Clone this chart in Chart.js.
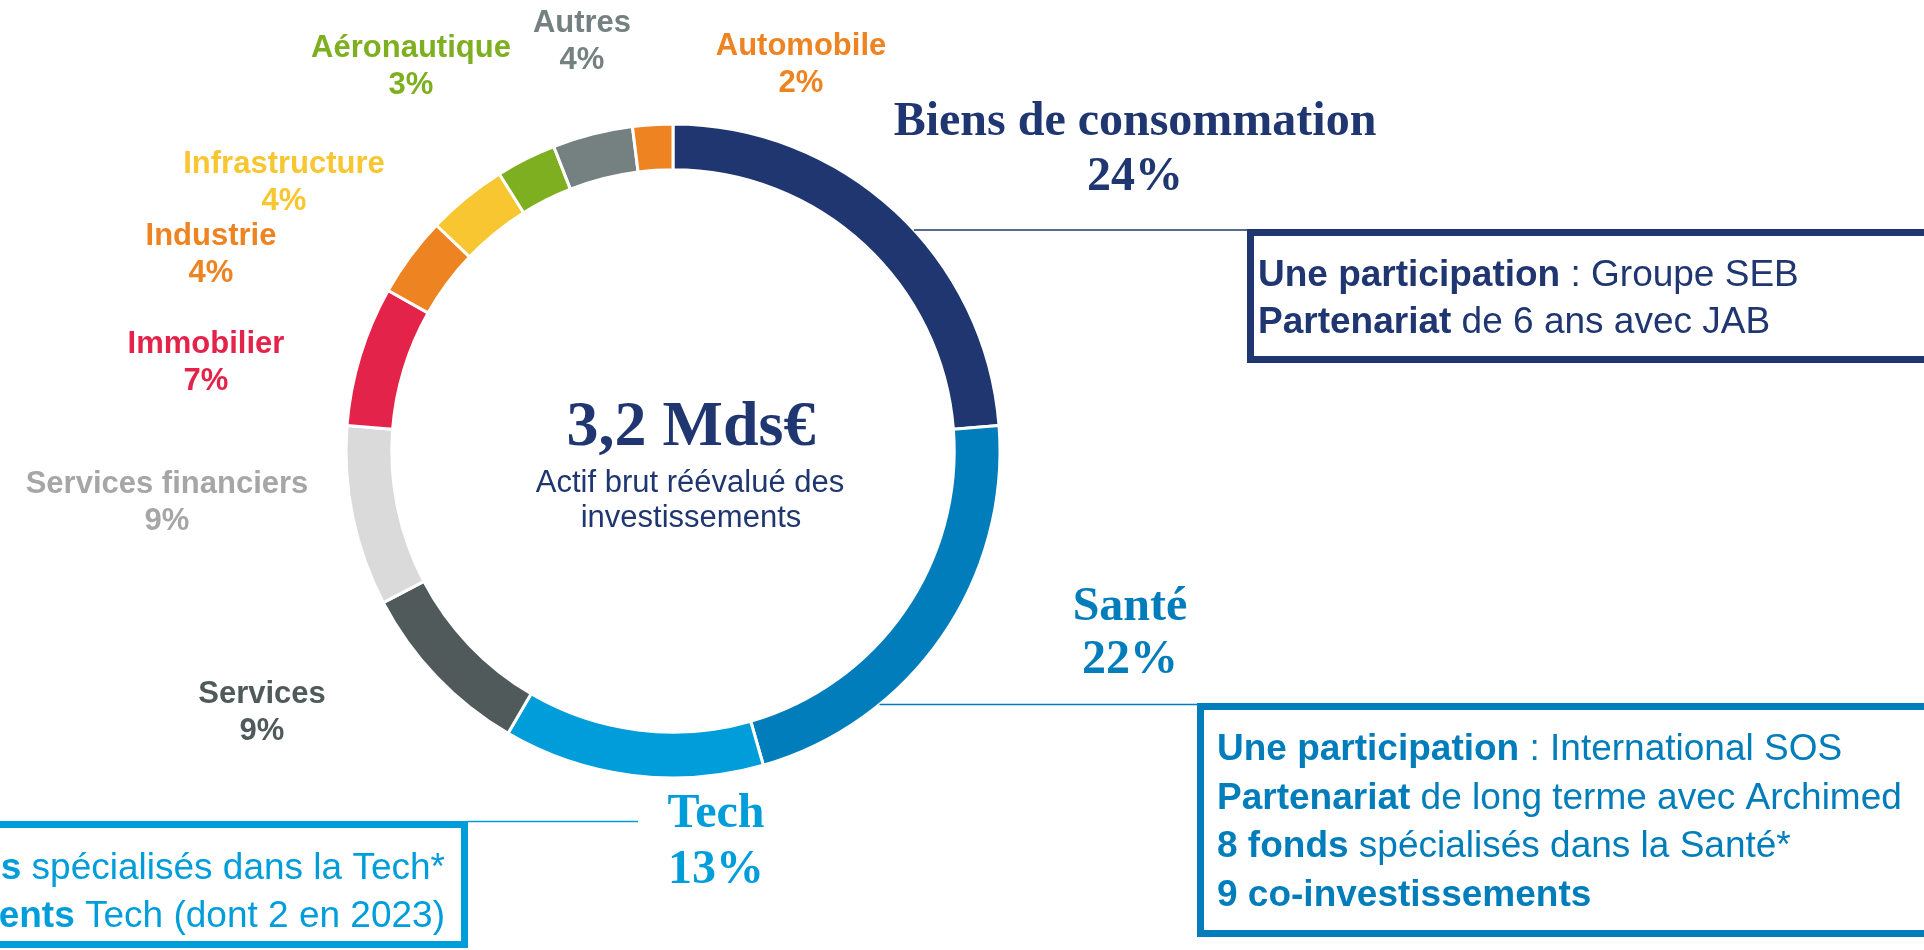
<!DOCTYPE html>
<html>
<head>
<meta charset="utf-8">
<script src="https://cdn.jsdelivr.net/npm/chart.js@4.4.1/dist/chart.umd.min.js"></script>
<style>
  html, body { margin: 0; padding: 0; background: #fff; overflow: hidden; }
  canvas { display: block; }
</style>
</head>
<body>
<canvas id="sectors" width="1924" height="950"></canvas>
<script>
// sectors, clockwise from 12 o'clock
const sectors = ['Biens de consommation', 'Santé', 'Tech', 'Services', 'Services financiers',
  'Immobilier', 'Industrie', 'Infrastructure', 'Aéronautique', 'Autres', 'Automobile'];
const shares = [24, 22, 13, 9, 9, 7, 4, 4, 3, 4, 2];

const sliceColors = ['#1F3670', '#007DBA', '#009DDB', '#505A5A', '#DADADA',
  '#E4234B', '#EE8322', '#F8C630', '#7DAF20', '#758181', '#EE8322'];
const labelColors = ['#1F3670', '#007DBA', '#009DDB', '#505A5A', '#A6A6A6',
  '#E4234B', '#EE8322', '#F8C630', '#7DAF20', '#758181', '#EE8322'];

const totalLabel = '3,2 Mds€';
const totalCaption = ['Actif brut réévalué des', 'investissements'];

const sebLines = [['Une participation', ' : Groupe SEB'], ['Partenariat', ' de 6 ans avec JAB']];
const santeLines = [['Une participation', ' : International SOS'],
  ['Partenariat', ' de long terme avec Archimed'],
  ['8 fonds', ' spécialisés dans la Santé*'],
  ['9 co-investissements', '']];
const techLines = [['s', ' spécialisés dans la Tech*'], ['ents', ' Tech (dont 2 en 2023)']];

const SANS = '"Liberation Sans", Arial, sans-serif';
const SERIF = '"Liberation Serif", "Times New Roman", serif';

// where each sector label sits, relative to the donut centre (first baseline)
const labelSpots = [
  { dx: 462, dy: -316, gap: 55, big: true },
  { dx: 457, dy: 169, gap: 53, big: true },
  { dx: 43, dy: 376, gap: 56, big: true },
  { dx: -411, dy: 252, gap: 37 },
  { dx: -506, dy: 42, gap: 37 },
  { dx: -467, dy: -98, gap: 37 },
  { dx: -462, dy: -206, gap: 37 },
  { dx: -389, dy: -278, gap: 37 },
  { dx: -262, dy: -394, gap: 37 },
  { dx: -91, dy: -419, gap: 37 },
  { dx: 128, dy: -396, gap: 37 }
];

function richLine(ctx, parts, x, y, align) {
  ctx.font = 'bold 37px ' + SANS;
  const wb = ctx.measureText(parts[0]).width;
  ctx.font = '37px ' + SANS;
  const wr = ctx.measureText(parts[1]).width;
  let x0 = align === 'right' ? x - wb - wr : x;
  ctx.textAlign = 'left';
  ctx.font = 'bold 37px ' + SANS;
  ctx.fillText(parts[0], x0, y);
  ctx.font = '37px ' + SANS;
  ctx.fillText(parts[1], x0 + wb, y);
}

function infoBox(ctx, color, box, lines, textX, firstBase, gap, align) {
  ctx.strokeStyle = color;
  ctx.lineWidth = 7;
  ctx.strokeRect(box.x + 3.5, box.y + 3.5, box.w - 7, box.h - 7);
  ctx.fillStyle = color;
  lines.forEach((parts, i) => richLine(ctx, parts, textX, firstBase + i * gap, align));
}

const annotations = {
  id: 'annotations',
  afterDraw(chart) {
    const ctx = chart.ctx;
    const arc = chart.getDatasetMeta(0).data[0];
    const cx = arc.x, cy = arc.y, R = arc.outerRadius;
    ctx.save();
    ctx.textBaseline = 'alphabetic';

    // sector labels
    sectors.forEach((name, i) => {
      const s = labelSpots[i];
      ctx.fillStyle = labelColors[i];
      ctx.textAlign = 'center';
      ctx.font = s.big ? 'bold 48px ' + SERIF : 'bold 31px ' + SANS;
      ctx.fillText(name, cx + s.dx, cy + s.dy);
      ctx.fillText(shares[i] + '%', cx + s.dx, cy + s.dy + s.gap);
    });

    // centre text
    ctx.fillStyle = '#1F3670';
    ctx.textAlign = 'center';
    ctx.font = 'bold 64px ' + SERIF;
    ctx.fillText(totalLabel, cx + 18, cy - 6);
    ctx.font = '31px ' + SANS;
    ctx.fillText(totalCaption[0], cx + 17, cy + 41);
    ctx.fillText(totalCaption[1], cx + 18, cy + 76);

    // leader lines
    ctx.lineWidth = 1.5;
    const edgeX = (y) => cx + Math.sqrt(Math.max(R * R - (y - cy) * (y - cy), 0));
    ctx.strokeStyle = '#1F3670';
    ctx.beginPath(); ctx.moveTo(edgeX(230), 230); ctx.lineTo(1247, 230); ctx.stroke();
    ctx.strokeStyle = '#007DBA';
    ctx.beginPath(); ctx.moveTo(edgeX(704.5), 704.5); ctx.lineTo(1197, 704.5); ctx.stroke();
    ctx.strokeStyle = '#009DDB';
    ctx.beginPath(); ctx.moveTo(468, 821.5); ctx.lineTo(638, 821.5); ctx.stroke();

    // boxes
    infoBox(ctx, '#1F3670', { x: 1247, y: 229, w: 720, h: 134 }, sebLines, 1258, 286, 47, 'left');
    infoBox(ctx, '#007DBA', { x: 1197, y: 703, w: 770, h: 234 }, santeLines, 1217, 760, 48.5, 'left');
    infoBox(ctx, '#009DDB', { x: -300, y: 821, w: 768, h: 127 }, techLines, 445, 879, 47.5, 'right');

    ctx.restore();
  }
};

new Chart(document.getElementById('sectors'), {
  type: 'doughnut',
  data: {
    labels: sectors,
    datasets: [{
      data: shares,
      backgroundColor: sliceColors,
      borderColor: '#ffffff',
      borderWidth: 3
    }]
  },
  options: {
    responsive: false,
    animation: false,
    radius: 327,
    cutout: '86%',
    layout: { padding: { left: 342, right: 920, top: 121, bottom: 169 } },
    plugins: {
      legend: { display: false },
      tooltip: { enabled: false }
    }
  },
  plugins: [annotations]
});
</script>
</body>
</html>
